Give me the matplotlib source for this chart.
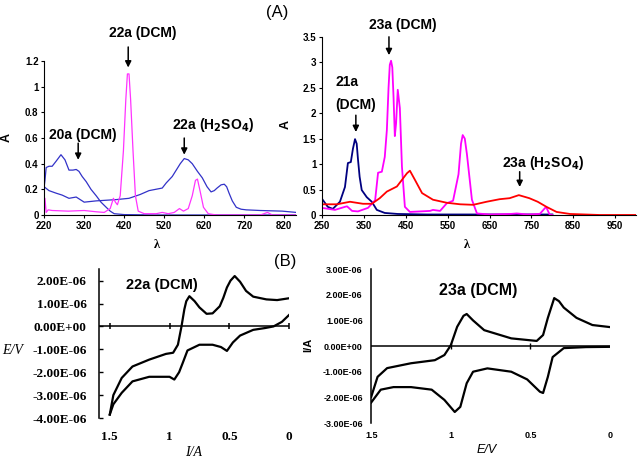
import matplotlib
matplotlib.use('Agg')
import matplotlib.pyplot as plt

# ---- (A) left: UV-vis of 20a / 22a ----
wl_20a = [220, 222, 225, 232, 240, 250, 262, 272, 282, 292, 300, 307, 315, 325, 337, 350, 362, 375, 385, 395, 420, 500, 850]
abs_20a = [0.22, 0.27, 0.37, 0.38, 0.38, 0.42, 0.47, 0.43, 0.35, 0.35, 0.355, 0.34, 0.3, 0.26, 0.2, 0.15, 0.1, 0.06, 0.03, 0.01, 0.003, 0.0, 0.0]

wl_22a_acid = [220, 232, 250, 265, 282, 300, 320, 350, 400, 432, 460, 482, 515, 525, 540, 550, 560, 570, 580, 590, 603, 615, 627, 637, 645, 652, 662, 670, 676, 682, 690, 700, 712, 725, 760, 815, 850]
abs_22a_acid = [0.22, 0.19, 0.17, 0.155, 0.13, 0.14, 0.1, 0.11, 0.12, 0.13, 0.16, 0.19, 0.21, 0.25, 0.3, 0.35, 0.4, 0.44, 0.43, 0.4, 0.34, 0.29, 0.22, 0.18, 0.19, 0.21, 0.235, 0.24, 0.22, 0.17, 0.11, 0.06, 0.045, 0.04, 0.035, 0.03, 0.02]

wl_22a_dcm = [220, 222, 225, 230, 240, 280, 320, 350, 370, 385, 393, 398, 403, 410, 418, 424, 428, 432, 436, 442, 448, 455, 470, 500, 515, 530, 545, 558, 568, 580, 590, 598, 603, 610, 618, 630, 650, 760, 778, 790, 850]
abs_22a_dcm = [0.0, 0.13, 0.02, 0.04, 0.035, 0.03, 0.035, 0.025, 0.02, 0.05, 0.13, 0.1, 0.08, 0.15, 0.5, 0.9, 1.1, 1.1, 0.9, 0.5, 0.15, 0.03, 0.01, 0.01, 0.02, 0.01, 0.02, 0.05, 0.03, 0.05, 0.15, 0.27, 0.28, 0.18, 0.06, 0.01, 0.0, 0.0, 0.02, 0.0, 0.0]

# ---- (A) right: UV-vis of 21a / 23a ----
wl_21a = [250, 264, 276, 293, 305, 312, 319, 324, 329, 333, 336, 340, 345, 357, 369, 381, 400, 431, 500, 800]
abs_21a = [0.32, 0.16, 0.12, 0.26, 0.55, 1.02, 1.04, 1.3, 1.49, 1.4, 1.1, 0.75, 0.49, 0.35, 0.26, 0.1, 0.04, 0.02, 0.01, 0.01]

wl_23a_dcm = [250, 281, 305, 310, 322, 336, 360, 377, 384, 393, 400, 405, 409, 412, 415, 418, 421, 424, 427, 431, 436, 441, 448, 460, 508, 515, 532, 548, 563, 576, 582, 586, 591, 596, 608, 620, 650, 700, 715, 740, 770, 785, 794, 800]
abs_23a_dcm = [0.14, 0.1, 0.16, 0.17, 0.08, 0.07, 0.14, 0.29, 0.83, 0.85, 1.14, 1.67, 2.5, 2.95, 3.03, 2.9, 2.3, 1.55, 1.8, 2.46, 2.1, 0.95, 0.16, 0.06, 0.08, 0.1, 0.08, 0.23, 0.28, 0.8, 1.4, 1.57, 1.5, 1.2, 0.3, 0.03, 0.01, 0.02, 0.03, 0.01, 0.02, 0.16, 0.0, 0.0]

wl_23a_acid = [250, 286, 317, 348, 369, 388, 405, 429, 453, 460, 472, 489, 515, 548, 580, 611, 643, 674, 698, 720, 745, 765, 786, 810, 842, 913, 1000]
abs_23a_acid = [0.21, 0.21, 0.26, 0.22, 0.22, 0.33, 0.46, 0.56, 0.82, 0.87, 0.69, 0.43, 0.3, 0.24, 0.21, 0.2, 0.26, 0.31, 0.33, 0.39, 0.33, 0.26, 0.16, 0.06, 0.02, 0.0, 0.0]

# ---- (B) left: CV of 22a ----
e_22a_fwd = [0.0, 0.1, 0.19, 0.3, 0.36, 0.41, 0.455, 0.49, 0.52, 0.55, 0.58, 0.64, 0.69, 0.75, 0.79, 0.834, 0.86, 0.876, 0.9, 0.93, 0.97, 1.03, 1.17, 1.31, 1.4, 1.47, 1.5]
i_22a_fwd = [1.23e-6, 1.15e-6, 1.18e-6, 1.3e-6, 1.55e-6, 1.95e-6, 2.2e-6, 2.0e-6, 1.7e-6, 1.25e-6, 0.88e-6, 0.57e-6, 0.55e-6, 0.83e-6, 1.1e-6, 1.32e-6, 1.1e-6, 0.75e-6, 0.0, -0.8e-6, -1.15e-6, -1.2e-6, -1.45e-6, -1.75e-6, -2.25e-6, -3.0e-6, -3.85e-6]
e_22a_rev = [1.5, 1.47, 1.4, 1.31, 1.17, 1.0, 0.96, 0.92, 0.89, 0.85, 0.75, 0.64, 0.57, 0.52, 0.47, 0.41, 0.3, 0.2, 0.13, 0.06, 0.0]
i_22a_rev = [-3.85e-6, -3.4e-6, -2.9e-6, -2.4e-6, -2.2e-6, -2.2e-6, -2.32e-6, -2.0e-6, -1.6e-6, -1.05e-6, -0.8e-6, -0.8e-6, -0.9e-6, -1.07e-6, -0.7e-6, -0.4e-6, -0.15e-6, -0.07e-6, 0.0, 0.2e-6, 0.5e-6]

# ---- (B) right: CV of 23a ----
e_23a_fwd = [1.5, 1.46, 1.4, 1.25, 1.1, 1.04, 1.0, 0.96, 0.92, 0.9, 0.86, 0.79, 0.62, 0.46, 0.42, 0.39, 0.35, 0.32, 0.29, 0.21, 0.11, 0.0]
i_23a_fwd = [-1.98e-6, -1.2e-6, -0.86e-6, -0.67e-6, -0.55e-6, -0.35e-6, 0.03e-6, 0.75e-6, 1.18e-6, 1.25e-6, 1.0e-6, 0.62e-6, 0.3e-6, 0.2e-6, 0.43e-6, 1.1e-6, 1.87e-6, 1.75e-6, 1.5e-6, 1.1e-6, 0.82e-6, 0.74e-6]
e_23a_rev = [1.5, 1.44, 1.36, 1.25, 1.12, 1.04, 0.975, 0.94, 0.9, 0.86, 0.77, 0.62, 0.52, 0.44, 0.42, 0.39, 0.36, 0.29, 0.15, 0.0]
i_23a_rev = [-2.2e-6, -1.7e-6, -1.6e-6, -1.6e-6, -1.7e-6, -2.1e-6, -2.57e-6, -2.37e-6, -1.45e-6, -1.0e-6, -0.87e-6, -1.0e-6, -1.3e-6, -1.78e-6, -1.83e-6, -1.2e-6, -0.43e-6, -0.08e-6, -0.04e-6, -0.03e-6]

cv_left_xticks = [1.5, 1, 0.5, 0]
cv_left_yticks = [-4e-6, -3e-6, -2e-6, -1e-6, 0, 1e-6, 2e-6]
cv_right_xticks = [1.5, 1, 0.5, 0]
cv_right_yticks = [-3e-6, -2e-6, -1e-6, 0, 1e-6, 2e-6, 3e-6]

SANS = 'Liberation Sans'
SERIF = 'Liberation Serif'


def arrow(ax, x, y0, y1):
    ax.annotate('', xy=(x, y1), xytext=(x, y0), annotation_clip=False,
                arrowprops=dict(arrowstyle='-|>', color='black', lw=1.1, mutation_scale=9,
                                shrinkA=0, shrinkB=0))


def label(ax, x, y, s, size=10, **kw):
    ax.text(x, y, s, ha='center', va='center', fontsize=size, fontweight='bold',
            family=SANS, clip_on=False, **kw)


def uv_style(ax):
    for s in ['top', 'right']:
        ax.spines[s].set_visible(False)
    ax.tick_params(length=2, width=0.8, pad=2, labelsize=7)
    for t in ax.get_xticklabels() + ax.get_yticklabels():
        t.set_fontweight('bold')
        t.set_family(SANS)


fig = plt.figure(figsize=(6.4, 4.58), dpi=100)

# top left
ax1 = fig.add_axes([0.069, 0.5306, 0.394, 0.336])
ax1.plot(wl_20a, abs_20a, color='#3232c8', lw=0.9)
ax1.plot(wl_22a_acid, abs_22a_acid, color='#3232c8', lw=0.9)
ax1.plot(wl_22a_dcm, abs_22a_dcm, color='#ff33ff', lw=0.9)
ax1.set_xlim(220, 850)
ax1.set_ylim(0, 1.2)
ax1.set_xticks(range(220, 821, 100))
ax1.set_yticks([0, 0.2, 0.4, 0.6, 0.8, 1, 1.2])
ax1.set_yticklabels(['0', '0.2', '0.4', '0.6', '0.8', '1', '1.2'])
uv_style(ax1)
ax1.set_xlabel('λ', fontsize=9, fontweight='bold', family=SERIF)
ax1.xaxis.set_label_coords(0.448, -0.156)
ax1.set_ylabel('A', fontsize=9, fontweight='bold', family=SANS)
ax1.yaxis.set_label_coords(-0.125, 0.506)
label(ax1, 467, 1.42, '22a (DCM)')
arrow(ax1, 430, 1.31, 1.15)
label(ax1, 317, 0.62, '20a (DCM)')
arrow(ax1, 305, 0.56, 0.43)
label(ax1, 642, 0.70, '22a (H$_\\mathbf{2}$SO$_\\mathbf{4}$)')
arrow(ax1, 570, 0.60, 0.47)

# top right
ax2 = fig.add_axes([0.503, 0.5306, 0.491, 0.389])
ax2.plot(wl_21a, abs_21a, color='#000080', lw=1.3)
ax2.plot(wl_23a_dcm, abs_23a_dcm, color='#ff00ff', lw=1.3)
ax2.plot(wl_23a_acid, abs_23a_acid, color='#ff0000', lw=1.3)
ax2.set_xlim(250, 1000)
ax2.set_ylim(0, 3.5)
ax2.set_xticks(range(250, 951, 100))
ax2.set_yticks([0, 0.5, 1, 1.5, 2, 2.5, 3, 3.5])
ax2.set_yticklabels(['0', '0.5', '1', '1.5', '2', '2.5', '3', '3.5'])
uv_style(ax2)
ax2.set_xlabel('λ', fontsize=9, fontweight='bold', family=SERIF)
ax2.xaxis.set_label_coords(0.462, -0.135)
ax2.set_ylabel('A', fontsize=9, fontweight='bold', family=SANS)
ax2.yaxis.set_label_coords(-0.095, 0.506)
label(ax2, 443, 3.73, '23a (DCM)')
arrow(ax2, 410, 3.5, 3.14)
label(ax2, 310, 2.61, '21a')
label(ax2, 331, 2.16, '(DCM)')
arrow(ax2, 331, 1.96, 1.63)
label(ax2, 777, 1.02, '23a (H$_\\mathbf{2}$SO$_\\mathbf{4}$)')
arrow(ax2, 722, 0.85, 0.55)

fig.text(0.433, 0.972, '(A)', fontsize=12, family=SANS, ha='center', va='center')
fig.text(0.445, 0.428, '(B)', fontsize=12, family=SANS, ha='center', va='center')

# bottom left
ax3 = fig.add_axes([0.1547, 0.0873, 0.297, 0.325])
ax3.plot(e_22a_fwd, i_22a_fwd, color='black', lw=1.6)
ax3.plot(e_22a_rev, i_22a_rev, color='black', lw=1.6)
ax3.set_xlim(1.59, 0)
ax3.set_ylim(-4e-6, 2.5e-6)
ax3.axhline(0, color='black', lw=1.1)
ax3.plot(cv_left_xticks, [0] * len(cv_left_xticks), ls='none', marker='|', ms=5, mew=1.1, color='black', clip_on=False)
for s in ['top', 'right', 'bottom']:
    ax3.spines[s].set_visible(False)
ax3.spines['left'].set_linewidth(1.1)
ax3.set_xticks(cv_left_xticks)
ax3.set_xticklabels(['1.5', '1', '0.5', '0'])
ax3.set_yticks(cv_left_yticks)
ax3.set_yticklabels(['-4.00E-06', '-3.00E-06', '-2.00E-06', '-1.00E-06', '0.00E+00', '1.00E-06', '2.00E-06'])
ax3.tick_params(axis='x', length=0, pad=9)
ax3.tick_params(axis='y', direction='in', length=3, width=1, pad=9)
for t in ax3.get_xticklabels() + ax3.get_yticklabels():
    t.set_fontweight('bold')
    t.set_family(SERIF)
    t.set_fontsize(9.5)
ax3.set_xlabel('I/A', fontsize=10, style='italic', family=SERIF)
ax3.xaxis.set_label_coords(0.495, -0.19)
ax3.set_ylabel('E/V', fontsize=10, style='italic', family=SERIF, rotation=0, ha='center', va='center')
ax3.yaxis.set_label_coords(-0.453, 0.456)
ax3.text(0.33, 0.893, '22a (DCM)', transform=ax3.transAxes, ha='center', va='center',
         fontsize=10.5, fontweight='bold', family=SANS)

# bottom right
ax4 = fig.add_axes([0.58, 0.0764, 0.373, 0.336])
ax4.plot(e_23a_fwd, i_23a_fwd, color='black', lw=1.6)
ax4.plot(e_23a_rev, i_23a_rev, color='black', lw=1.6)
ax4.set_xlim(1.5, 0)
ax4.set_ylim(-3e-6, 3e-6)
ax4.axhline(0, color='black', lw=1.1)
ax4.plot(cv_right_xticks[1:3], [0] * 2, ls='none', marker='|', ms=4, mew=1, color='black')
for s in ['top', 'right', 'bottom']:
    ax4.spines[s].set_visible(False)
ax4.spines['left'].set_linewidth(1.1)
ax4.set_xticks(cv_right_xticks)
ax4.set_xticklabels(['1.5', '1', '0.5', '0'])
ax4.set_yticks(cv_right_yticks)
ax4.set_yticklabels(['-3.00E-06', '-2.00E-06', '-1.00E-06', '0.00E+00', '1.00E-06', '2.00E-06', '3.00E-06'])
ax4.tick_params(axis='both', length=0, pad=6)
for t in ax4.get_xticklabels() + ax4.get_yticklabels():
    t.set_fontweight('bold')
    t.set_family(SANS)
    t.set_fontsize(6.5)
ax4.set_xlabel('E/V', fontsize=9, style='italic', family=SANS)
ax4.xaxis.set_label_coords(0.485, -0.136)
ax4.set_ylabel('I/A', fontsize=8, fontweight='bold', family=SANS, va='center')
ax4.yaxis.set_label_coords(-0.264, 0.506)
ax4.text(0.448, 0.864, '23a (DCM)', transform=ax4.transAxes, ha='center', va='center',
         fontsize=11.5, fontweight='bold', family=SANS)

fig.savefig('out.png', dpi=100)
